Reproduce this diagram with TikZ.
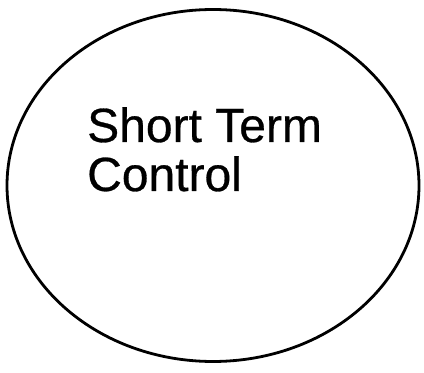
\documentclass[tikz,border=0pt]{standalone}
\usepackage{fontspec}
\setmainfont{Liberation Sans}
\newfontfamily\thickfont{Liberation Sans}[FakeBold=0.6]
\begin{document}
\begin{tikzpicture}[x=1pt,y=1pt,
  outline/.style={draw=black,line width=2.8pt},
  label/.style={inner sep=0pt,anchor=base west,font=\thickfont\fontsize{48}{49}\selectfont}]
\useasboundingbox (0,0) rectangle (424,373);
\draw[outline] (213,187.5) ellipse [x radius=206, y radius=176];
\node[label] (l1) at (87,231) {Short Term};
\node[label] (l2) at (87,182) {Control};
\end{tikzpicture}
\end{document}
